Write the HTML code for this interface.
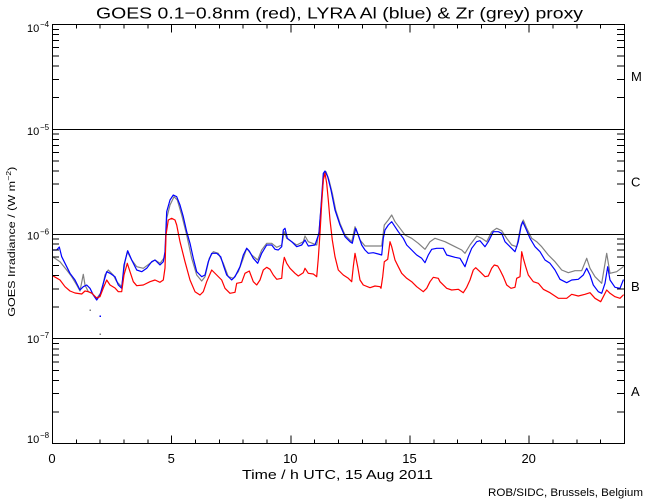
<!DOCTYPE html>
<html>
<head>
<meta charset="utf-8">
<style>
html,body{margin:0;padding:0;background:#fff;}
svg{display:block;}
text{font-family:"Liberation Sans",Arial,sans-serif;fill:#000;}
</style>
</head>
<body>
<svg width="650" height="500" viewBox="0 0 650 500" xmlns="http://www.w3.org/2000/svg">
<rect x="0" y="0" width="650" height="500" fill="#fff"/>

<!-- Title -->
<text x="96" y="18.5" font-size="16" textLength="487" lengthAdjust="spacingAndGlyphs">GOES 0.1−0.8nm (red), LYRA Al (blue) &amp; Zr (grey) proxy</text>

<!-- data -->
<g fill="none" stroke-width="1.2" stroke-linejoin="round" stroke-linecap="round">
<polyline stroke="#808080" points="52.7,256.7 60,261.7 66.7,270 71.7,276.7 76.7,285 80,291 83.3,274.3 85,285 88.3,291.7 91.7,293.3 96.7,298.3 101.7,291.7 105,275 108.3,270 113.3,275 116.7,281.7 121.7,286.7 125,261.7 127.3,251.7 131.7,260 136.7,266.7 143.3,268.3 150,263.3 155,260 160,263.3 165,256.7 166.7,218.3 170,205 174,196.7 177.3,200 181.7,215 186.7,235 191.7,258.3 196.7,275 201.7,281 205,276.7 209.3,258.3 213.3,251.7 218.3,253.3 223.3,263.3 228.3,276.7 233.3,278.3 238.3,271.7 243.3,258.3 246.7,248.3 251.7,255 257.7,260 261.7,250 266.7,243.3 271.7,243.3 276.7,247.3 281.7,245 284.3,231.7 286.7,238.3 291.7,241.7 296.7,245 303.3,241.7 305,236 308.3,241.7 316.7,245 319,231.7 321.7,200 324,172.7 326,171.7 329,180 332.3,193.3 335.7,210 340,223.3 345,235 350,240 351.7,241.7 355,226.7 360,240 365,246 371.7,246 381.7,246 384.3,225 388.3,220 391.7,215 395,221.7 400,228.3 405,235 411.7,238.3 418.3,243.3 425,249.3 430,241.7 435,238.3 445,241.7 455,246.7 461.7,250 465,253.3 470,245 476.7,236 481.7,238.3 486.7,241.7 491.7,231.7 496.7,228.3 501.7,230.7 506.7,238.3 511.7,245 516.7,246.7 521,225 523.3,220 526.7,228.3 531.7,238.3 536.7,241.7 541.7,246.7 548.3,255 555,261.7 561.7,270 568.3,272.7 575,270.7 581.7,270.7 586.7,258.3 590,268.3 595,276.7 601.7,283.3 606.7,253.3 610,273.3 616.7,271.7 623.3,266.7"/>
<polyline stroke="#0000ff" points="52.7,250 56.7,250 59.3,247 61.7,256.7 65,263.3 70,273.3 75,280 80,290 83.3,286.7 86.7,285 90,288.3 93.3,295 96.7,300 100,295 103.3,283.3 106.7,271.7 110,273.3 115,276.7 118.3,285 121.7,288.3 124,265 127.7,250.7 131.7,260 136.7,270 141.7,271.7 146.7,268.3 151.7,261.7 155,260 160,265 163.3,261.7 165,251.7 166.7,211.7 170,200 173.3,195 176.7,196.7 180,205 183.3,216.7 186.7,231.7 190,243.3 193.3,258.3 196.7,271.7 201.7,276.7 205,275 208.3,261.7 211.7,253.3 216.7,253.3 220.7,256.7 223.3,265 226.7,275 231.7,280 235,276.7 240,266.7 243.3,255 246.7,248.3 249.3,251 253.3,258.3 257.7,263.3 261.7,253.3 266.7,245 271.7,245 275,249.3 278.3,250 281.7,246.7 283.3,230 285,228.3 287.3,238.3 291.7,241.7 296.7,246.7 301.7,245 305,240 308.3,246 315,245 319,233.3 321,206.7 323.3,173.3 325,171 327.7,176.7 331,190 335,210 340,225 345,236.7 350,241.7 352.3,243.3 355.7,228.3 358.3,235 361.7,245 365,250 368.3,253.3 373.3,252.7 378.3,254 381.7,255 383.3,238.3 385,230 388.3,225 391.7,221.7 395,226.7 398.3,231.7 403.3,238.3 406.7,245 411.7,250 416.7,255 421.7,258.3 425,262.7 428.3,255 431.7,249.3 436.7,248.3 443.3,248.3 446.7,255 455,257.3 460,258.3 465,266.7 468.3,256.7 471.7,248.3 476.7,241.7 480,240.7 485,246.7 488.3,241.7 493.3,231.7 498.3,231.7 501.7,233.3 505,241.7 510,246.7 515,251.7 518.3,241.7 521,226.7 522.7,221.7 525.7,228.3 530,238.3 535,246.7 540,251.7 545,260 550,263.3 555,270 560,279.3 566.7,282.7 571.7,280 578.3,279.3 583.3,275 586.7,268.3 590,275 593.3,285 598.3,291.7 601.7,293.3 605,283.3 607.7,266.7 610,280 615,287.3 620,288.3 623.3,280"/>
<polyline stroke="#ff0000" points="52.7,275.7 60,280 65,286.7 70,291 75,293 81.7,294 85,291 88.3,291.7 91.7,293 96.7,298 100,296.7 103.3,288 106.7,280 110,285 115,288 118.3,291.7 121.7,291.7 124,275 127.3,263.3 130,271.7 133.3,281.7 136.7,285.7 143.3,285 150,281.7 155,280 160,282.3 163.3,280 165,268 166,235 168.3,220 171.7,218.3 175,220 176.7,225 180,241.7 185,261.7 190,280 195,291.7 200,295 203.3,291.7 206.7,281.7 211.7,270 216.7,275 221.7,280 225,288.3 230,293.3 235,292.3 236.7,283.3 241.7,282.3 245,273.3 249.3,271 253.3,281.7 256.7,285 260,280 263.3,270 266.7,267.3 270,269.3 273.3,275 276.7,279.3 281.7,278.3 282.7,266.7 284.3,257.3 286.7,263.3 290,268.3 295,273.3 298.3,276 303.3,272.7 305,268.3 308.3,273.3 313.3,274 316.7,276.7 318.3,258.3 320,233.3 321.7,203.3 323.3,180 325,173.3 326.7,183.3 328.3,200 330,220 332.3,240 335,256.7 338.3,270 343.3,275 348.3,278.3 351.7,281.7 353.3,266.7 355,253.3 357.7,266.7 360,280 363.3,285 370,287.7 375,286 380,286.7 381,288.3 382.7,276.7 384.3,261.7 387.7,259.3 390,241.7 391.7,246.7 395,260 398.3,266.7 401.7,273.3 406.7,278.3 411.7,281.7 416.7,286.7 423.3,291.7 426.7,288.3 430,281.7 433.3,277.3 438.3,278.3 440,281.7 446.7,288.3 451.7,290 458.3,289.3 463.3,292.7 466.7,287.3 470,280 473.3,270 475.7,267.7 480,271.7 485,276.7 488.3,276 491.7,268.3 494.3,265 497.7,266 500,270 503.3,276.7 506.7,285 511,288.3 515,287.3 516.7,278.3 520,276.7 521.7,251.7 523.3,258.3 525.7,266.7 528.3,275 533.3,281.7 538.3,283.3 543.3,289.3 550,292.7 558.3,298.3 566.7,298.3 571.7,294.3 578.3,296 585,294.3 590,292.7 595,298.3 600.7,301.7 603.3,296.7 606.7,290 610,293.3 615,296.7 620,298.3 623.3,295"/>
</g>
<g stroke="none">
<rect x="89.5" y="309.5" width="1.5" height="1.5" fill="#808080"/>
<rect x="99.5" y="333.5" width="1.5" height="1.5" fill="#808080"/>
<rect x="99.5" y="315.5" width="1.5" height="1.5" fill="#0000ff"/>
</g>

<!-- axes, decade lines, ticks -->
<g stroke="#000" stroke-width="1" fill="none" shape-rendering="crispEdges">
<rect x="52.5" y="24.5" width="572" height="419"/>
<path d="M52 129.5H624M52 234.5H624M52 338.5H624"/>
<path d="M76.3 443.5V439.5M100.2 443.5V439.5M124 443.5V439.5M147.8 443.5V439.5M171.7 443.5V435.5M195.5 443.5V439.5M219.3 443.5V439.5M243.2 443.5V439.5M267 443.5V439.5M290.8 443.5V435.5M314.7 443.5V439.5M338.5 443.5V439.5M362.3 443.5V439.5M386.2 443.5V439.5M410 443.5V435.5M433.8 443.5V439.5M457.7 443.5V439.5M481.5 443.5V439.5M505.3 443.5V439.5M529.2 443.5V435.5M553 443.5V439.5M576.8 443.5V439.5M600.7 443.5V439.5"/>
<path d="M76.3 24.5V28.5M100.2 24.5V28.5M124 24.5V28.5M147.8 24.5V28.5M171.7 24.5V32.5M195.5 24.5V28.5M219.3 24.5V28.5M243.2 24.5V28.5M267 24.5V28.5M290.8 24.5V32.5M314.7 24.5V28.5M338.5 24.5V28.5M362.3 24.5V28.5M386.2 24.5V28.5M410 24.5V32.5M433.8 24.5V28.5M457.7 24.5V28.5M481.5 24.5V28.5M505.3 24.5V28.5M529.2 24.5V32.5M553 24.5V28.5M576.8 24.5V28.5M600.7 24.5V28.5"/>
<path d="M52 97.7H59M52 79.3H59M52 66.2H59M52 56H59M52 47.7H59M52 40.7H59M52 34.7H59M52 29.3H59
M52 202.5H59M52 184H59M52 170.9H59M52 160.8H59M52 152.5H59M52 145.5H59M52 139.4H59M52 134H59
M52 307.2H59M52 288.8H59M52 275.7H59M52 265.5H59M52 257.2H59M52 250.2H59M52 244.2H59M52 238.8H59
M52 412H59M52 393.5H59M52 380.4H59M52 370.3H59M52 362H59M52 355H59M52 348.9H59M52 343.5H59"/>
<path d="M625 97.7H617M625 79.3H617M625 66.2H617M625 56H617M625 47.7H617M625 40.7H617M625 34.7H617M625 29.3H617
M625 202.5H617M625 184H617M625 170.9H617M625 160.8H617M625 152.5H617M625 145.5H617M625 139.4H617M625 134H617
M625 307.2H617M625 288.8H617M625 275.7H617M625 265.5H617M625 257.2H617M625 250.2H617M625 244.2H617M625 238.8H617
M625 412H617M625 393.5H617M625 380.4H617M625 370.3H617M625 362H617M625 355H617M625 348.9H617M625 343.5H617"/>
</g>

<!-- Y tick labels -->
<g font-size="11">
<text x="27" y="32">10</text><text x="40" y="27" font-size="8">−4</text>
<text x="27" y="135">10</text><text x="40" y="130" font-size="8">−5</text>
<text x="27" y="239.5">10</text><text x="40" y="234.5" font-size="8">−6</text>
<text x="27" y="343">10</text><text x="40" y="338" font-size="8">−7</text>
<text x="27" y="443">10</text><text x="40" y="438" font-size="8">−8</text>
</g>

<!-- Y axis title -->
<text transform="translate(15,241.7) rotate(-90)" text-anchor="middle" font-size="10" textLength="150" lengthAdjust="spacingAndGlyphs">GOES Irradiance / (W m<tspan font-size="7" dy="-4">−2</tspan><tspan dy="4">)</tspan></text>

<!-- X tick labels -->
<g font-size="13" text-anchor="middle">
<text x="52" y="463">0</text>
<text x="171.2" y="463">5</text>
<text x="290.3" y="463">10</text>
<text x="409.5" y="463">15</text>
<text x="528.7" y="463">20</text>
</g>

<!-- X axis title -->
<text x="242" y="479" font-size="13" textLength="191" lengthAdjust="spacingAndGlyphs">Time / h UTC, 15 Aug 2011</text>

<!-- class labels -->
<g font-size="13">
<text x="631" y="81">M</text>
<text x="631" y="186.5">C</text>
<text x="631" y="291">B</text>
<text x="631" y="396">A</text>
</g>

<!-- credit -->
<text x="488" y="496" font-size="11" textLength="155" lengthAdjust="spacingAndGlyphs">ROB/SIDC, Brussels, Belgium</text>
</svg>
</body>
</html>
